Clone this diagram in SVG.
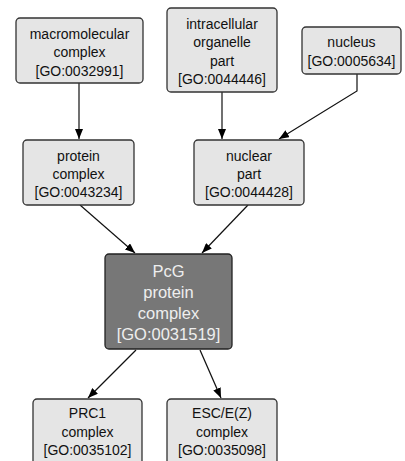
<svg xmlns="http://www.w3.org/2000/svg" width="405" height="461" viewBox="0 0 405 461">
<style>
.n rect{fill:#e5e5e5;stroke:#333;stroke-width:1.3}
.n text{font-family:"Liberation Sans",Arial,sans-serif;font-size:14px;fill:#111;text-anchor:middle}
.h rect{fill:#777;stroke:#222;stroke-width:1.3}
.h text{font-family:"Liberation Sans",Arial,sans-serif;font-size:16.5px;fill:#eee;text-anchor:middle}
.e path{fill:none;stroke:#111;stroke-width:1.2;marker-end:url(#a)}
</style>
<defs>
<marker id="a" markerWidth="10" markerHeight="8" refX="10" refY="4" orient="auto" markerUnits="userSpaceOnUse">
<path d="M0,0 L10,4 L0,8 z" fill="#000"/>
</marker>
</defs>
<rect width="405" height="461" fill="#fff"/>
<g class="e">
<path d="M79,83 V139"/>
<path d="M222,92 V139"/>
<path d="M357,74 V91 L279,139"/>
<path d="M80,205 L135,253"/>
<path d="M248,205 L202,253"/>
<path d="M136,350 L88,398"/>
<path d="M200,350 L221,398"/>
</g>
<g id="n1" class="n"><rect x="16" y="18" width="127" height="65" rx="4"/>
<text x="79.5" y="38.5">macromolecular</text><text x="79.5" y="57">complex</text><text x="79.5" y="75.5">[GO:0032991]</text></g>
<g id="n2" class="n"><rect x="167" y="8" width="110" height="84" rx="4"/>
<text x="222" y="28.5">intracellular</text><text x="222" y="47">organelle</text><text x="222" y="65.5">part</text><text x="222" y="84">[GO:0044446]</text></g>
<g id="n3" class="n"><rect x="302" y="27" width="99" height="47" rx="4"/>
<text x="351.5" y="47">nucleus</text><text x="351.5" y="66">[GO:0005634]</text></g>
<g id="n4" class="n"><rect x="23" y="140" width="111" height="65" rx="4"/>
<text x="78.5" y="161">protein</text><text x="78.5" y="179">complex</text><text x="78.5" y="197">[GO:0043234]</text></g>
<g id="n5" class="n"><rect x="194" y="140" width="110" height="65" rx="4"/>
<text x="249" y="161">nuclear</text><text x="249" y="179">part</text><text x="249" y="197">[GO:0044428]</text></g>
<g id="n6" class="h"><rect x="105" y="254" width="127" height="95" rx="4"/>
<text x="168.5" y="277">PcG</text><text x="168.5" y="297.5">protein</text><text x="168.5" y="318.5">complex</text><text x="168.5" y="340">[GO:0031519]</text></g>
<g id="n7" class="n"><rect x="33" y="399" width="109" height="66" rx="4"/>
<text x="87.5" y="418">PRC1</text><text x="87.5" y="437">complex</text><text x="87.5" y="455">[GO:0035102]</text></g>
<g id="n8" class="n"><rect x="167" y="399" width="110" height="66" rx="4"/>
<text x="222" y="418">ESC/E(Z)</text><text x="222" y="437">complex</text><text x="222" y="455">[GO:0035098]</text></g>
</svg>
